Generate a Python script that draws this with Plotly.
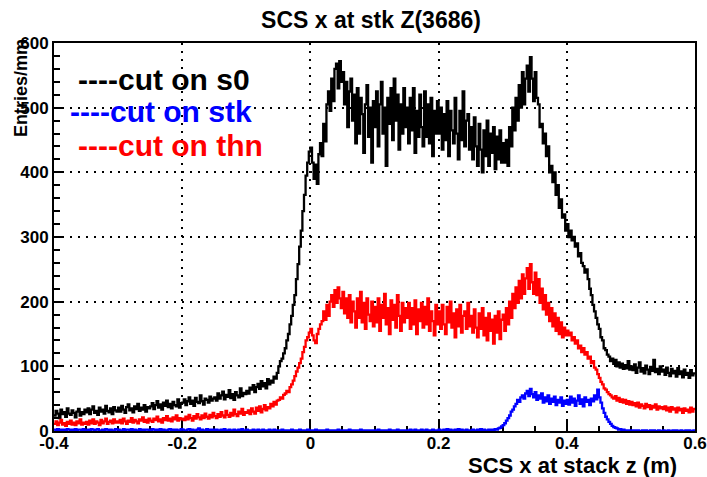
import plotly.graph_objects as go

x_min, x_max, n_bins = -0.4, 0.6, 400

black_s0 = [
    24, 31, 27, 20, 33, 26, 29, 22, 35, 27, 25, 32, 28, 21, 30, 34, 24, 29, 26, 33,
    29, 35, 26, 33, 38, 28, 31, 25, 36, 30, 33, 27, 39, 31, 29, 35, 26, 37, 32, 30,
    36, 30, 39, 33, 28, 37, 41, 32, 35, 29, 38, 34, 42, 31, 36, 33, 40, 30, 37, 35,
    38, 43, 34, 40, 46, 36, 41, 33, 44, 39, 47, 37, 42, 35, 45, 40, 38, 49, 36, 43,
    44, 49, 40, 46, 52, 42, 47, 39, 51, 45, 43, 55, 46, 41, 50, 48, 44, 53, 47, 50,
    52, 47, 58, 50, 55, 61, 49, 56, 53, 63, 51, 57, 48, 60, 55, 52, 66, 54, 59, 57,
    62, 58, 67, 64, 71, 60, 68, 73, 65, 77, 69, 74, 66, 80, 72, 78, 75, 84, 81, 90,
    100, 108, 112, 120, 128, 140, 150, 165, 178, 195, 210, 235, 258, 285, 310, 340, 365, 395, 415, 432,
    438, 415, 390, 412, 382, 428, 445, 425, 475, 448, 505, 525, 495, 545, 510, 560, 568, 530, 572, 540,
    555, 505, 540, 470, 525, 545, 480, 520, 445, 530, 460, 515, 490, 430, 505, 535, 455, 500, 415, 510,
    470, 525, 440, 505, 540, 460, 500, 410, 515, 475, 530, 450, 545, 480, 520, 435, 505, 460, 530, 470,
    500, 445, 515, 465, 530, 430, 495, 455, 520, 470, 440, 525, 455, 505, 445, 515, 425, 495, 460, 510,
    460, 500, 435, 490, 450, 510, 425, 495, 465, 445, 515, 460, 420, 495, 450, 525, 440, 480, 490, 435,
    470, 420, 485, 440, 410, 475, 435, 400, 465, 425, 480, 410, 460, 430, 470, 405, 455, 420, 465, 415,
    445, 415, 450, 410, 470, 440, 500, 465, 515, 480, 535, 500, 555, 505, 545, 565, 525, 578, 545, 510,
    555, 515, 505, 470, 475, 445, 460, 425, 440, 400, 410, 385, 400, 365, 380, 345, 358, 330, 335, 310,
    320, 300, 310, 295, 300, 285, 290, 270, 275, 260, 255, 245, 250, 235, 220, 210, 195, 185, 175, 165,
    158, 145, 140, 128, 125, 118, 115, 108, 112, 104, 110, 100, 106, 98, 104, 96, 102, 97, 108, 95,
    100, 94, 103, 90, 98, 106, 92, 97, 89, 101, 95, 88, 99, 93, 110, 91, 96, 88, 100, 92,
    95, 87, 98, 90, 85, 96, 89, 93, 84, 97, 88, 92, 83, 95, 87, 90, 82, 94, 86, 89,
]

red_thn = [
    11, 15, 9, 13, 17, 10, 12, 8, 14, 11, 16, 10, 13, 9, 15, 12, 18, 10, 13, 11,
    14, 10, 16, 12, 18, 11, 15, 13, 9, 17, 12, 15, 19, 11, 14, 16, 12, 18, 13, 15,
    13, 17, 12, 19, 15, 11, 16, 14, 20, 13, 17, 15, 12, 18, 16, 21, 14, 17, 13, 19,
    16, 14, 19, 17, 22, 15, 18, 13, 20, 17, 23, 16, 19, 15, 21, 18, 24, 16, 20, 18,
    19, 17, 22, 18, 25, 20, 16, 23, 19, 26, 21, 18, 24, 20, 27, 22, 19, 25, 21, 28,
    23, 20, 26, 22, 29, 24, 21, 31, 25, 22, 28, 24, 33, 26, 23, 30, 27, 34, 25, 29,
    28, 32, 26, 35, 30, 27, 36, 31, 38, 29, 34, 40, 32, 37, 35, 42, 38, 45, 41, 47,
    48, 52, 50, 56, 58, 62, 60, 68, 72, 78, 85, 92, 98, 105, 112, 122, 130, 140, 145, 152,
    158, 148, 140, 136, 150, 158, 165, 170, 185, 172, 195, 178, 200, 210, 192, 218, 198, 222, 205, 190,
    215, 182, 205, 175, 210, 168, 200, 185, 160, 205, 175, 215, 168, 198, 158, 205, 180, 170, 200, 162,
    192, 168, 205, 155, 195, 175, 212, 165, 190, 150, 202, 172, 195, 160, 210, 178, 155, 198, 168, 190,
    175, 198, 158, 190, 165, 202, 150, 188, 170, 198, 160, 192, 165, 205, 155, 185, 170, 148, 195, 165,
    185, 158, 195, 165, 150, 192, 168, 200, 160, 182, 145, 188, 162, 195, 152, 178, 185, 158, 198, 162,
    178, 152, 188, 160, 145, 182, 158, 190, 148, 175, 140, 182, 155, 172, 135, 178, 152, 185, 142, 172,
    180, 155, 190, 165, 200, 175, 212, 190, 222, 198, 232, 205, 242, 212, 236, 252, 220, 258, 230, 212,
    245, 210, 235, 198, 220, 188, 210, 180, 198, 170, 190, 162, 182, 155, 175, 150, 168, 145, 160, 148,
    155, 148, 152, 140, 145, 135, 140, 128, 132, 122, 128, 118, 122, 112, 115, 105, 108, 98, 95, 88,
    82, 76, 72, 66, 64, 60, 57, 55, 52, 50, 54, 47, 51, 45, 49, 44, 48, 42, 46, 41,
    45, 40, 43, 38, 44, 36, 41, 39, 35, 42, 37, 40, 34, 39, 36, 41, 33, 38, 35, 37,
    34, 38, 32, 36, 30, 37, 33, 35, 29, 36, 32, 34, 28, 35, 31, 33, 29, 36, 30, 34,
]

blue_stk = [
    2, 1, 3, 1, 2, 0, 2, 1, 3, 2, 1, 2, 0, 3, 1, 2, 2, 1, 3, 1,
    1, 2, 0, 3, 2, 1, 2, 3, 1, 0, 2, 1, 3, 2, 1, 2, 0, 1, 3, 2,
    2, 0, 1, 3, 1, 2, 2, 0, 3, 1, 2, 1, 1, 3, 0, 2, 1, 2, 2, 1,
    1, 3, 2, 0, 2, 1, 3, 1, 2, 0, 1, 2, 3, 1, 2, 0, 2, 1, 1, 3,
    2, 1, 0, 2, 3, 1, 2, 1, 0, 2, 4, 1, 2, 0, 1, 3, 1, 2, 0, 2,
    1, 2, 1, 0, 2, 1, 3, 0, 1, 2, 1, 0, 2, 1, 1, 2, 0, 3, 1, 1,
    2, 0, 1, 1, 2, 0, 1, 2, 1, 0, 2, 1, 0, 1, 2, 1, 0, 2, 1, 1,
    0, 1, 2, 1, 0, 1, 1, 0, 2, 1, 0, 1, 1, 2, 0, 1, 0, 1, 2, 0,
    1, 0, 1, 2, 0, 1, 0, 1, 1, 0, 2, 0, 1, 0, 1, 1, 0, 2, 0, 1,
    0, 1, 0, 1, 2, 0, 1, 0, 1, 0, 1, 2, 0, 1, 0, 1, 1, 0, 1, 0,
    1, 0, 2, 0, 1, 0, 1, 1, 0, 2, 0, 1, 0, 1, 2, 0, 1, 0, 1, 1,
    0, 1, 2, 1, 0, 2, 1, 0, 1, 2, 1, 0, 2, 1, 1, 0, 2, 1, 0, 1,
    2, 1, 0, 2, 1, 3, 1, 2, 0, 1, 2, 1, 3, 0, 2, 1, 1, 2, 0, 1,
    1, 2, 1, 0, 2, 1, 3, 1, 2, 1, 0, 2, 1, 2, 1, 3, 2, 4, 5, 7,
    9, 12, 16, 20, 24, 30, 33, 38, 42, 48, 45, 52, 55, 50, 58, 62, 54, 65, 57, 52,
    60, 48, 55, 50, 58, 44, 52, 46, 55, 42, 50, 45, 53, 40, 48, 44, 52, 39, 47, 42,
    48, 41, 53, 44, 50, 39, 47, 55, 42, 49, 38, 52, 45, 48, 40, 50, 46, 55, 49, 64,
    52, 44, 35, 28, 22, 18, 14, 11, 8, 6, 5, 4, 2, 3, 1, 2, 1, 0, 1, 1,
    0, 1, 0, 1, 1, 0, 0, 1, 0, 1, 0, 0, 1, 0, 1, 0, 0, 1, 0, 0,
    1, 0, 0, 1, 0, 0, 1, 0, 1, 0, 0, 1, 0, 0, 1, 0, 1, 0, 0, 1,
]

x_tickvals = [-0.4, -0.2, 0, 0.2, 0.4, 0.6]
x_ticktext = ["-0.4", "-0.2", "0", "0.2", "0.4", "0.6"]
y_tickvals = [0, 100, 200, 300, 400, 500, 600]
y_ticktext = ["0", "100", "200", "300", "400", "500", "600"]

legend_labels = ["----cut on s0", "----cut on stk", "----cut on thn"]
colors = ["black", "#0000ff", "#ff0000"]

width = (x_max - x_min) / n_bins
edges = [x_min + width * i for i in range(n_bins + 1)]

FONT = "Liberation Sans, Arial, Helvetica, sans-serif"

fig = go.Figure()
for vals, col in [(black_s0, colors[0]), (red_thn, colors[2]), (blue_stk, colors[1])]:
    fig.add_trace(go.Scatter(
        x=edges, y=vals + [vals[-1]], mode="lines", line_shape="hv",
        line=dict(color=col, width=2.3), showlegend=False, hoverinfo="skip"))

axis_common = dict(
    showline=True, linecolor="black", linewidth=2, mirror=True,
    ticks="inside", tickcolor="black", tickwidth=2, ticklen=10,
    showgrid=True, gridcolor="black", gridwidth=1.5, griddash="2px,6px",
    zeroline=False, layer="below traces", automargin=False,
    tickfont=dict(family=FONT, size=17, color="black", weight="bold"),
)

fig.update_xaxes(range=[x_min, x_max], tickvals=x_tickvals, ticktext=x_ticktext,
                 ticklabelstandoff=-4,
                 minor=dict(dtick=0.05, tick0=0, ticks="inside", ticklen=5, tickwidth=2,
                            tickcolor="black", showgrid=False),
                 **axis_common)
fig.update_yaxes(range=[0, 600], tickvals=y_tickvals, ticktext=y_ticktext,
                 minor=dict(dtick=20, tick0=0, ticks="inside", ticklen=6, tickwidth=2,
                            tickcolor="black", showgrid=False),
                 **axis_common)

L, R, T, B = 54, 12, 43, 46
W, H = 707, 477
pw, ph = W - L - R, H - T - B

def px(xp):
    return (xp - L) / pw

def py(yp):
    return (H - B - yp) / ph

annotations = [
    dict(text="SCS x at stack z (m)", x=px(679), y=py(465.5), xanchor="right", yanchor="middle",
         font=dict(family=FONT, size=22, color="black", weight="bold")),
    dict(text="Entries/mm", textangle=-90, x=px(21), y=py(37), xanchor="center", yanchor="top",
         font=dict(family=FONT, size=18, color="black", weight="bold")),
]
leg_pos = [(76, 79), (68, 111), (76, 145)]
for lab, col, (lx, ly) in zip(legend_labels, colors, leg_pos):
    annotations.append(dict(text=lab, x=px(lx), y=py(ly), xanchor="left", yanchor="middle",
                            font=dict(family=FONT, size=30, color=col, weight="bold")))
for a in annotations:
    a.update(xref="paper", yref="paper", showarrow=False)

fig.update_layout(
    width=W, height=H,
    margin=dict(l=L, r=R, t=T, b=B, autoexpand=False),
    paper_bgcolor="white", plot_bgcolor="white",
    title=dict(text="SCS x at stk Z(3686)", xref="container", yref="container",
               x=371 / W, y=1 - 20 / H, xanchor="center", yanchor="middle",
               font=dict(family=FONT, size=23, color="black", weight="bold")),
    annotations=annotations,
)

fig.write_html("out.html")
